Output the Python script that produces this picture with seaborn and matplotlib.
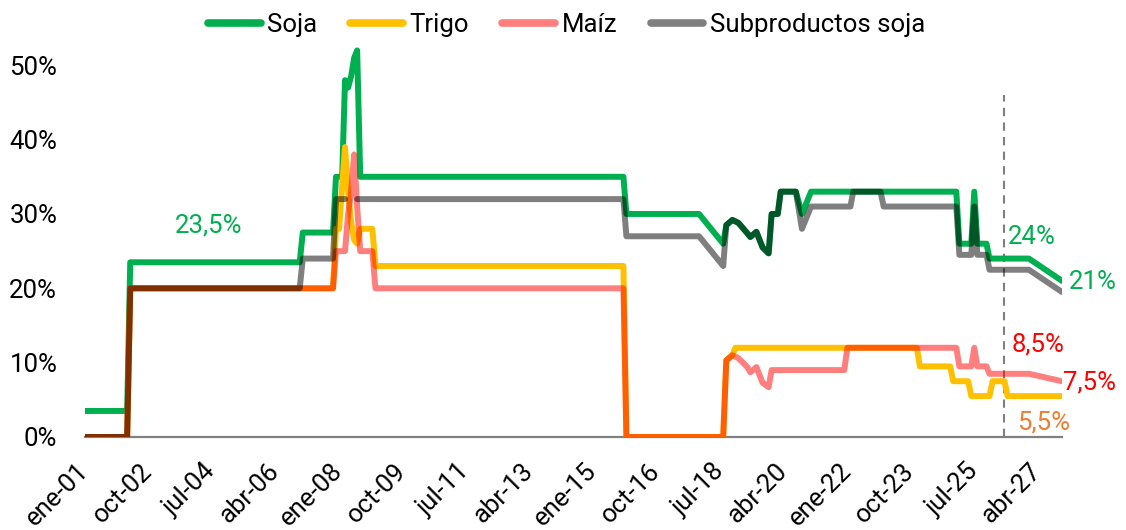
import numpy as np
import pandas as pd
import seaborn as sns
import matplotlib.pyplot as plt
from matplotlib.lines import Line2D
from matplotlib.transforms import ScaledTranslation

# -------------------------------------------------------------------
# Datos: derechos de exportación (%), fechas año-mes
# -------------------------------------------------------------------

soja_fecha = ['2001-01', '2002-03', '2002-04', '2006-12', '2007-01', '2007-11', '2007-12',
              '2008-02', '2008-03', '2008-04', '2008-05', '2008-06', '2008-07', '2008-08',
              '2015-11', '2015-12', '2017-12', '2018-08', '2018-09', '2018-11', '2019-01',
              '2019-04', '2019-05', '2019-07', '2019-09', '2019-11', '2019-12', '2020-02',
              '2020-03', '2020-08', '2020-10', '2021-01', '2025-01', '2025-02', '2025-06',
              '2025-07', '2025-08', '2025-11', '2025-12', '2027-01', '2027-12']
soja_valor = [3.5, 3.5, 23.5, 23.5, 27.5, 27.5, 35,
              35, 48, 47, 48.5, 51, 52, 35,
              35, 30, 30, 26, 28.5, 29.2, 28.8,
              27.4, 26.9, 27.6, 25.5, 24.7, 30, 30,
              33, 33, 30, 33, 33, 26, 26,
              33, 26, 26, 24, 24, 21]

trigo_fecha = ['2001-01', '2002-03', '2002-04', '2007-11', '2007-12', '2008-01', '2008-03',
               '2008-04', '2008-05', '2008-06', '2008-07', '2008-08', '2008-12', '2009-01',
               '2015-11', '2015-12', '2018-08', '2018-09', '2018-11', '2018-12', '2023-12',
               '2024-01', '2024-11', '2024-12', '2025-05', '2025-06', '2025-12', '2026-01',
               '2026-05', '2026-06', '2027-12']
trigo_valor = [0, 0, 20, 20, 28, 28, 39,
               33, 29, 26.5, 26, 28, 28, 23,
               23, 0, 0, 10.3, 11, 12, 12,
               9.5, 9.5, 7.5, 7.5, 5.5, 5.5, 7.5,
               7.5, 5.5, 5.5]

maiz_fecha = ['2001-01', '2002-03', '2002-04', '2007-11', '2007-12', '2008-03', '2008-04',
              '2008-05', '2008-06', '2008-07', '2008-08', '2008-12', '2009-01', '2015-11',
              '2015-12', '2018-08', '2018-09', '2018-11', '2019-01', '2019-04', '2019-05',
              '2019-07', '2019-09', '2019-11', '2019-12', '2021-12', '2022-01', '2025-01',
              '2025-02', '2025-06', '2025-07', '2025-08', '2025-11', '2025-12', '2027-01',
              '2027-12']
maiz_valor = [0, 0, 20, 20, 25, 25, 30,
              33, 38, 31, 25, 25, 20, 20,
              0, 0, 10.3, 11, 10.6, 9.4, 8.7,
              9.4, 7.3, 6.7, 9, 9, 12, 12,
              9.5, 9.5, 12, 9.5, 9.5, 8.5, 8.5,
              7.5]

# NaN = meses sin dato (hueco en la línea)
sub_fecha = ['2001-01', '2002-03', '2002-04', '2006-12', '2007-01', '2007-11', '2007-12',
             '2008-03', '2008-04', '2008-06', '2008-07', '2015-11', '2015-12', '2017-12',
             '2018-08', '2018-09', '2018-11', '2019-01', '2019-04', '2019-05', '2019-07',
             '2019-09', '2019-11', '2019-12', '2020-02', '2020-03', '2020-08', '2020-10',
             '2021-01', '2022-02', '2022-03', '2022-12', '2023-01', '2025-01', '2025-02',
             '2025-06', '2025-07', '2025-08', '2025-11', '2025-12', '2027-01', '2027-12']
sub_valor = [0, 0, 20, 20, 24, 24, 32,
             32, np.nan, np.nan, 32, 32, 27, 27,
             23, 28.5, 29.2, 28.8, 27.4, 26.9, 27.6,
             25.5, 24.7, 30, 30, 33, 33, 28,
             31, 31, 33, 33, 31, 31, 24.5,
             24.5, 31, 24.5, 24.5, 22.5, 22.5, 19.5]

tick_fechas = ['2001-01', '2002-10', '2004-07', '2006-04', '2008-01', '2009-10', '2011-07',
               '2013-04', '2015-01', '2016-10', '2018-07', '2020-04', '2022-01', '2023-10',
               '2025-07', '2027-04']
tick_labels = ['ene-01', 'oct-02', 'jul-04', 'abr-06', 'ene-08', 'oct-09', 'jul-11',
               'abr-13', 'ene-15', 'oct-16', 'jul-18', 'abr-20', 'ene-22', 'oct-23',
               'jul-25', 'abr-27']

fecha_corte = '2026-05'

# -------------------------------------------------------------------
# Estilo
# -------------------------------------------------------------------

sns.set_style("white")
plt.rcParams['font.family'] = ['Roboto', 'DejaVu Sans']
plt.rcParams['text.color'] = 'black'
plt.rcParams['xtick.color'] = 'black'
plt.rcParams['ytick.color'] = 'black'
FS = 18.5

series = [
    ("Soja", soja_fecha, soja_valor, "#00B050", 1.0),
    ("Trigo", trigo_fecha, trigo_valor, "#FFC000", 1.0),
    ("Maíz", maiz_fecha, maiz_valor, "#FF0000", 0.5),
    ("Subproductos soja", sub_fecha, sub_valor, "#000000", 0.5),
]

fig = plt.figure(figsize=(11.26, 5.3), dpi=100)
ax = fig.add_axes([0.0755, 0.1755, 0.8677, 0.7434])

handles = []
for nombre, fechas, valores, color, alpha in series:
    df = pd.DataFrame({"fecha": pd.to_datetime(fechas, format="%Y-%m"),
                       "valor": valores})
    df["tramo"] = df["valor"].isna().cumsum()
    df = df.dropna()
    sns.lineplot(data=df, x="fecha", y="valor", units="tramo", estimator=None,
                 color=color, alpha=alpha, lw=4.3, ax=ax, legend=False,
                 solid_joinstyle="round", solid_capstyle="round", zorder=3)
    handles.append(Line2D([0], [0], color=color, alpha=alpha, lw=5.5,
                          solid_capstyle="round", label=nombre))

# línea vertical punteada
ax.vlines(pd.Timestamp(fecha_corte), 0, 46, colors="#7F7F7F",
          linestyles=(0, (4, 3)), lw=1.5, zorder=2)

# ejes
ax.set_xlim(pd.Timestamp("2001-01-01"), pd.Timestamp("2027-12-01"))
ax.set_ylim(0, 53)
ax.set_yticks([0, 10, 20, 30, 40, 50])
ax.set_yticklabels([f"{t}%" for t in [0, 10, 20, 30, 40, 50]], fontsize=FS)
ax.set_xticks(pd.to_datetime(tick_fechas, format="%Y-%m"))
ax.set_xticklabels(tick_labels, fontsize=FS, rotation=45, ha="right",
                   va="center", rotation_mode="anchor")
desplazo = ScaledTranslation(5 / 72, 0, fig.dpi_scale_trans)
for lbl in ax.get_xticklabels():
    lbl.set_transform(lbl.get_transform() + desplazo)
ax.tick_params(axis="y", length=0, pad=20)
ax.tick_params(axis="x", length=0, pad=22)
ax.set_xlabel("")
ax.set_ylabel("")
for s in ["top", "right", "left"]:
    ax.spines[s].set_visible(False)
ax.spines["bottom"].set_color("#808080")
ax.spines["bottom"].set_linewidth(1.6)

# etiquetas de valores
def etiqueta(fecha, y, texto, color):
    ax.text(pd.Timestamp(fecha), y, texto, color=color, fontsize=FS,
            ha="center", va="center", clip_on=False)

etiqueta("2004-06", 28.4, "23,5%", "#00B050")
etiqueta("2027-02", 26.9, "24%", "#00B050")
etiqueta("2028-10", 20.8, "21%", "#00B050")
etiqueta("2027-04", 12.4, "8,5%", "#FF0000")
etiqueta("2028-09", 7.3, "7,5%", "#FF0000")
etiqueta("2027-06", 1.9, "5,5%", "#ED7D31")

fig.legend(handles=handles, loc="center", bbox_to_anchor=(0.503, 0.953), ncol=4,
           frameon=False, fontsize=FS, handlelength=2.05, handletextpad=0.25,
           columnspacing=1.3)

plt.savefig("out.png", dpi=100)
